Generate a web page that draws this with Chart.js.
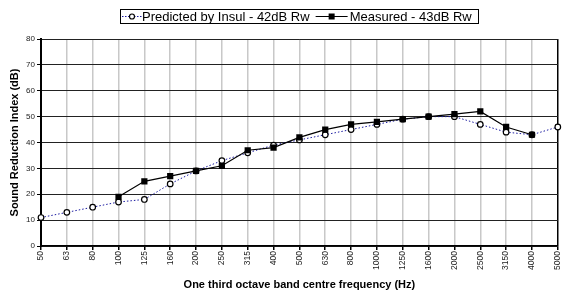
<!DOCTYPE html>
<html><head><meta charset="utf-8">
<script src="https://cdn.jsdelivr.net/npm/chart.js@4"></script>
<style>html,body{margin:0;padding:0;background:#fff}canvas{display:block}</style>
</head><body>
<canvas id="c" width="569" height="293"></canvas>
<script>
const categories = ['50','63','80','100','125','160','200','250','315','400','500','630','800','1000','1250','1600','2000','2500','3150','4000','5000'];
const predicted = [11,13,15,17,18,24,29,33,36,39,41,43,45,47,49,50,50,47,44,43,46];
const measured = [null,null,null,19,25,27,29,31,37,38,42,45,47,48,49,50,51,52,46,43,null];
const seriesNames = ['Predicted by Insul - 42dB Rw','Measured - 43dB Rw'];
const xTitle = 'One third octave band centre frequency (Hz)';
const yTitle = 'Sound Reduction Index (dB)';

const FONT = "'Liberation Sans', Arial, sans-serif";

const legendPlugin = {
  id: 'boxLegend',
  afterDraw(chart) {
    const ctx = chart.ctx, ca = chart.chartArea;
    ctx.save();
    ctx.font = '13px ' + FONT;
    const w1 = ctx.measureText(seriesNames[0]).width;
    const w2 = ctx.measureText(seriesNames[1]).width;
    const W = Math.round(22 + w1 + 40 + w2 + 6);
    const L = Math.round((ca.left + ca.right) / 2 - W / 2);
    const T = 9, H = 14, cy = T + H / 2;
    ctx.fillStyle = '#fff'; ctx.fillRect(L + 0.5, T + 0.5, W, H);
    ctx.strokeStyle = '#000'; ctx.lineWidth = 1; ctx.strokeRect(L + 0.5, T + 0.5, W, H);
    ctx.strokeStyle = '#1a1aa0'; ctx.setLineDash([1.5, 1.5]);
    ctx.beginPath(); ctx.moveTo(L + 2, cy + 0.5); ctx.lineTo(L + 22, cy + 0.5); ctx.stroke();
    ctx.setLineDash([]);
    ctx.beginPath(); ctx.arc(L + 12, cy + 0.5, 2.5, 0, 2 * Math.PI);
    ctx.fillStyle = '#fff'; ctx.fill(); ctx.strokeStyle = '#000'; ctx.lineWidth = 1.2; ctx.stroke();
    ctx.fillStyle = '#000'; ctx.textBaseline = 'middle'; ctx.textAlign = 'left';
    ctx.fillText(seriesNames[0], L + 22, cy + 1);
    const x2 = L + 22 + w1 + 6;
    ctx.strokeStyle = '#000'; ctx.lineWidth = 1;
    ctx.beginPath(); ctx.moveTo(x2, cy + 0.5); ctx.lineTo(x2 + 32, cy + 0.5); ctx.stroke();
    ctx.fillRect(x2 + 16 - 3, cy + 0.5 - 3, 6, 6);
    ctx.fillText(seriesNames[1], x2 + 34, cy + 1);
    ctx.restore();
  }
};

new Chart(document.getElementById('c'), {
  type: 'line',
  data: {
    labels: categories,
    datasets: [
      { label: seriesNames[0], data: predicted, order: 1, borderColor: '#1a1aa0', borderWidth: 1, borderDash: [1.5, 2],
        pointStyle: 'circle', pointRadius: 2.8, pointBorderWidth: 1.2, pointBorderColor: '#000', pointBackgroundColor: '#fff',
        tension: 0, fill: false },
      { label: seriesNames[1], data: measured, order: 0, borderColor: '#000', borderWidth: 1.2,
        pointStyle: 'rect', pointRadius: 4.4, pointBorderWidth: 0, pointBackgroundColor: '#000', pointBorderColor: '#000',
        tension: 0, fill: false, spanGaps: false }
    ]
  },
  options: {
    responsive: false, animation: false, devicePixelRatio: 1,
    layout: { padding: { left: 0, right: 4, top: 39, bottom: 0 } },
    plugins: { legend: { display: false }, tooltip: { enabled: false } },
    scales: {
      x: {
        type: 'category', offset: false,
        grid: { color: (c) => c.index === categories.length - 1 ? '#000' : '#c8c8c8', lineWidth: 1.5, tickColor: '#000', tickLength: 4 },
        border: { color: '#000', width: 1.5 },
        ticks: { autoSkip: false, maxRotation: 90, minRotation: 90, padding: 1, color: '#222', font: { family: FONT, size: 8.5 } },
        title: { display: true, text: xTitle, color: '#000', font: { family: FONT, size: 11, weight: 'bold' }, padding: { top: 0, bottom: 1.5 } },
        afterFit(s) { s.height = 47; }
      },
      y: {
        min: 0, max: 80,
        ticks: { stepSize: 10, padding: 2, color: '#222', font: { family: FONT, size: 8 } },
        grid: { color: '#222', lineWidth: 1, tickColor: '#000', tickLength: 4 },
        border: { color: '#000', width: 2 },
        title: { display: true, text: yTitle, color: '#000', font: { family: FONT, size: 11, weight: 'bold' }, padding: { top: 8, bottom: 0 } },
        afterFit(s) { s.width = 41; }
      }
    }
  },
  plugins: [legendPlugin]
});
</script>
</body></html>
